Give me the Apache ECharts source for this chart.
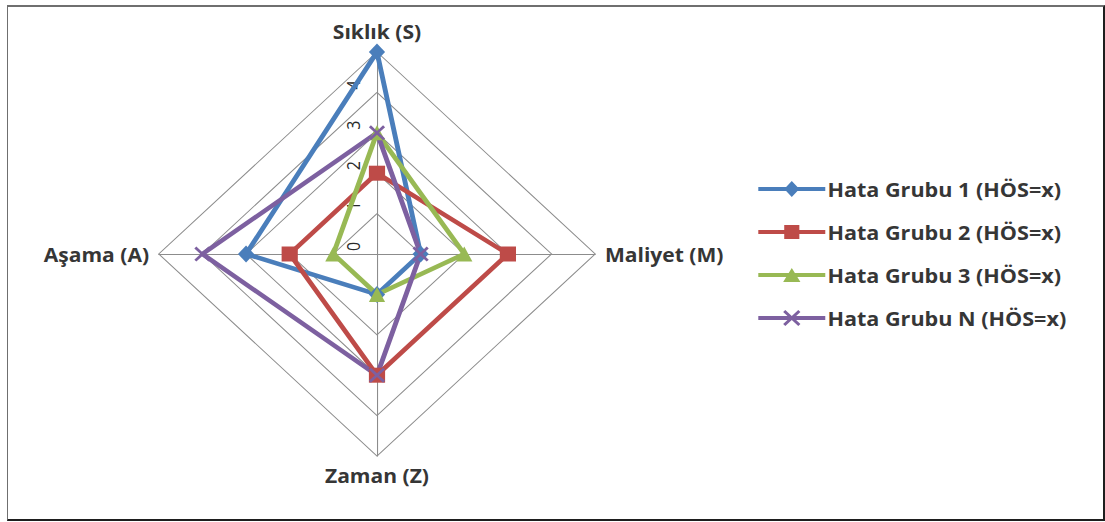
<!DOCTYPE html>
<html>
<head>
<meta charset="utf-8">
<script src="https://cdn.jsdelivr.net/npm/echarts@6/dist/echarts.min.js"></script>
<style>
html,body{margin:0;padding:0;background:#fff;overflow:hidden;width:1105px;height:522px;}
#frame{position:absolute;left:7px;top:5px;width:1098px;height:516px;box-sizing:border-box;
  border-left:1px solid #6f6f6f;border-top:2px solid #6f6f6f;border-right:2px solid #1e1e1e;border-bottom:2px solid #1e1e1e;}
#chart{position:absolute;left:0;top:0;width:1023px;height:522px;transform:scaleX(1.0802);transform-origin:0 0;}
</style>
</head>
<body>
<div id="frame"></div>
<div id="chart"></div>
<script>
// Indicators in ECharts order (top, then counter-clockwise: left, bottom, right)
const categories = ['Sıklık (S)', 'Aşama (A)', 'Zaman (Z)', 'Maliyet (M)'];
const axisTicks = [0, 1, 2, 3, 4, 5];
const seriesNames = ['Hata Grubu 1 (HÖS=x)', 'Hata Grubu 2 (HÖS=x)', 'Hata Grubu 3 (HÖS=x)', 'Hata Grubu N (HÖS=x)'];
const grup1 = [5, 3, 1, 1];
const grup2 = [2, 2, 3, 3];
const grup3 = [3, 1, 1, 2];
const grupN = [3, 4, 3, 1];
const seriesValues = [grup1, grup2, grup3, grupN];

const colors = ['#4a7ebb', '#be4b48', '#98b954', '#7d60a0'];
const xPath = 'path://M0 2L2 0L8 6L14 0L16 2L10 8L16 14L14 16L8 10L2 16L0 14L6 8Z';
const symbols = ['diamond', 'rect', 'triangle', xPath];
const symbolSizes = [[15, 17], 15, 15, 15];
const bar = 'M0 6L62 6L62 10L0 10Z ';
const legendIcons = [
  'path://' + bar + 'M24 8L31 0L38 8L31 16Z',
  'path://' + bar + 'M24 1L38 1L38 15L24 15Z',
  'path://' + bar + 'M31 1L39 15L23 15Z',
  'path://' + bar + 'M23 2L25 0L31 6L37 0L39 2L33 8L39 14L37 16L31 10L25 16L23 14L29 8Z'
];

const font = 'Open Sans';
const chart = echarts.init(document.getElementById('chart'), null, {renderer: 'svg'});
chart.setOption({
  backgroundColor: 'transparent',
  animation: false,
  legend: {
    orient: 'vertical',
    left: 697,
    top: 174,
    itemWidth: 62,
    itemHeight: 16,
    itemGap: 23,
    selectedMode: false,
    textStyle: {color: '#363636', fontFamily: font, fontWeight: 'bold', fontSize: 20, padding: [0, 0, 0, -3]},
    data: seriesNames.map((n, i) => ({name: n, icon: legendIcons[i]}))
  },
  radar: {
    center: [349, 254],
    radius: 202,
    startAngle: 90,
    shape: 'polygon',
    splitNumber: axisTicks.length - 1,
    nameGap: 9,
    indicator: categories.map((c, i) => ({
      name: c, min: axisTicks[0], max: axisTicks[axisTicks.length - 1],
      axisLabel: {show: i === 0}
    })),
    axisName: {color: '#363636', fontFamily: font, fontWeight: 'bold', fontSize: 19.5, padding: [0, 0, 2, 0]},
    splitLine: {lineStyle: {color: '#8c8c8c', width: 1}},
    splitArea: {show: false},
    axisLine: {show: true, lineStyle: {color: '#8c8c8c', width: 1}},
    axisTick: {show: false},
    axisLabel: {
      show: true, rotate: 90, color: '#2a2a2a', fontFamily: font, fontSize: 16, margin: 14,
      align: 'left', padding: [0, 0, 0, 3],
      formatter: v => (v === axisTicks[axisTicks.length - 1] ? '' : String(v))
    }
  },
  series: [{
    type: 'radar',
    symbolKeepAspect: false,
    data: seriesValues.map((vals, i) => ({
      name: seriesNames[i],
      value: vals,
      symbol: symbols[i],
      symbolSize: symbolSizes[i],
      itemStyle: {color: colors[i], borderWidth: 0},
      lineStyle: {color: colors[i], width: 4.5}
    }))
  }]
});
</script>
</body>
</html>
